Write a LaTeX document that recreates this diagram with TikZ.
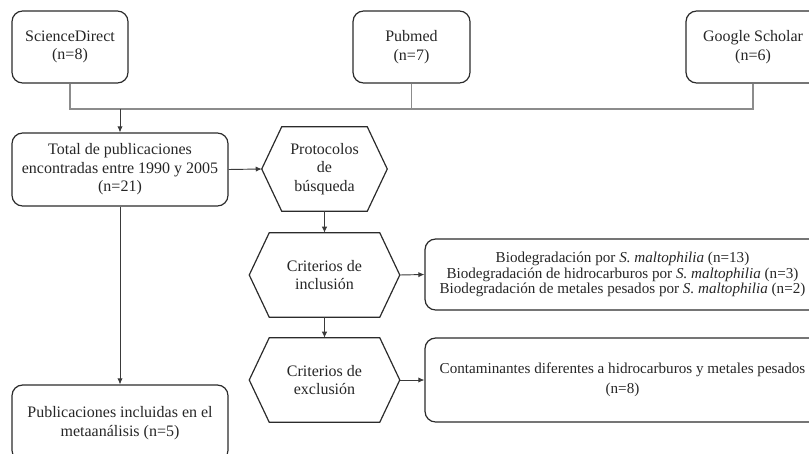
\documentclass[tikz,border=0pt]{standalone}
\usepackage{fontspec}
\setmainfont{Liberation Serif}
\usetikzlibrary{arrows.meta, positioning}
\definecolor{boxline}{HTML}{2B2B2B}
\definecolor{busline}{HTML}{8C8C8C}
\definecolor{arrowline}{HTML}{3A3A3A}
\definecolor{inktext}{HTML}{262626}

% hexagon outline drawn round a rectangular node
\newcommand{\hexframe}[1]{%
    \draw[hexline] (#1.west) -- ([xshift=15pt]#1.north west) -- ([xshift=-15pt]#1.north east)
        -- (#1.east) -- ([xshift=-15pt]#1.south east) -- ([xshift=15pt]#1.south west) -- cycle;}

\begin{document}
\begin{tikzpicture}[
            x=0.75pt, y=-0.75pt,
            source/.style={
                rectangle,
                draw=boxline,
                line width=0.9pt,
                rounded corners=8pt,
                text=inktext,
                align=center,
                inner sep=0pt,
                font=\fontsize{12}{13.8}\selectfont
            },
            outcome/.style={
                source,
                minimum width=296.25pt,
                font=\fontsize{11.35}{11.6}\selectfont
            },
            hexstep/.style={
                rectangle,
                draw=none,
                text=inktext,
                align=center,
                inner sep=0pt,
                minimum width=112.5pt,
                minimum height=63pt,
                font=\fontsize{12}{13.8}\selectfont
            },
            hexline/.style={
                draw=boxline,
                line width=0.9pt,
                line join=miter
            },
            bus/.style={
                draw=busline,
                line width=0.8pt
            },
            arrow/.style={
                -{Latex[length=4.5pt, width=4pt]},
                draw=arrowline,
                line width=0.7pt
            }
        ]
        \useasboundingbox (0,0) rectangle (809,453);

        % Databases
        \node (sd) [source, minimum width=87pt, minimum height=54pt] at (70,47) {ScienceDirect\\(n=8)};
        \node (pm) [source, minimum width=87.75pt, minimum height=54pt] at (411.5,47) {Pubmed\\(n=7)};
        \node (gs) [source, minimum width=100.5pt, minimum height=54pt] at (753,47) {Google Scholar\\(n=6)};

        % Total and final result
        \node (total) [source, minimum width=162pt, minimum height=54.75pt] at (120,169.5) {Total de publicaciones\\encontradas entre 1990 y 2005\\(n=21)};
        \node (final) [source, minimum width=162pt, minimum height=57pt] at (120,423) {Publicaciones incluidas en el\\metaanálisis (n=5)};

        % Search steps
        \node (proto) [hexstep, minimum width=93.75pt] at (324.5,169) {Protocolos\\de\\búsqueda};
        \node (incl) [hexstep] at (324.5,275) {Criterios de\\inclusión};
        \node (excl) [hexstep] at (324.5,380) {Criterios de\\exclusión};
        \hexframe{proto}
        \hexframe{incl}
        \hexframe{excl}

        % Outcomes of the criteria
        \node (kept) [outcome, minimum height=53.25pt] at (622.5,274.5) {Biodegradación por \textit{S. maltophilia} (n=13)\\Biodegradación de hidrocarburos por \textit{S. maltophilia} (n=3)\\Biodegradación de metales pesados por \textit{S. maltophilia} (n=2)};
        \node (dropped) [outcome, minimum height=63pt, font=\fontsize{11.35}{15}\selectfont] at (622.5,380) {Contaminantes diferentes a hidrocarburos y metales pesados\\(n=8)};

        % Merging the databases
        \coordinate (merge) at (120,109);
        \draw[bus] (sd.south) |- (merge) -| (gs.south);
        \draw[bus] (pm.south) -- (pm.south |- merge);

        % Arrows
        \draw[arrow] (merge) -- (total.north);
        \draw[arrow] (total.east) -- (proto.west);
        \draw[arrow] (total.south) -- (final.north);
        \draw[arrow] (proto.south) -- (incl.north);
        \draw[arrow] (incl.south) -- (excl.north);
        \draw[arrow] (incl.east) -- (kept.west);
        \draw[arrow] (excl.east) -- (dropped.west);

        \end{tikzpicture}
\end{document}
